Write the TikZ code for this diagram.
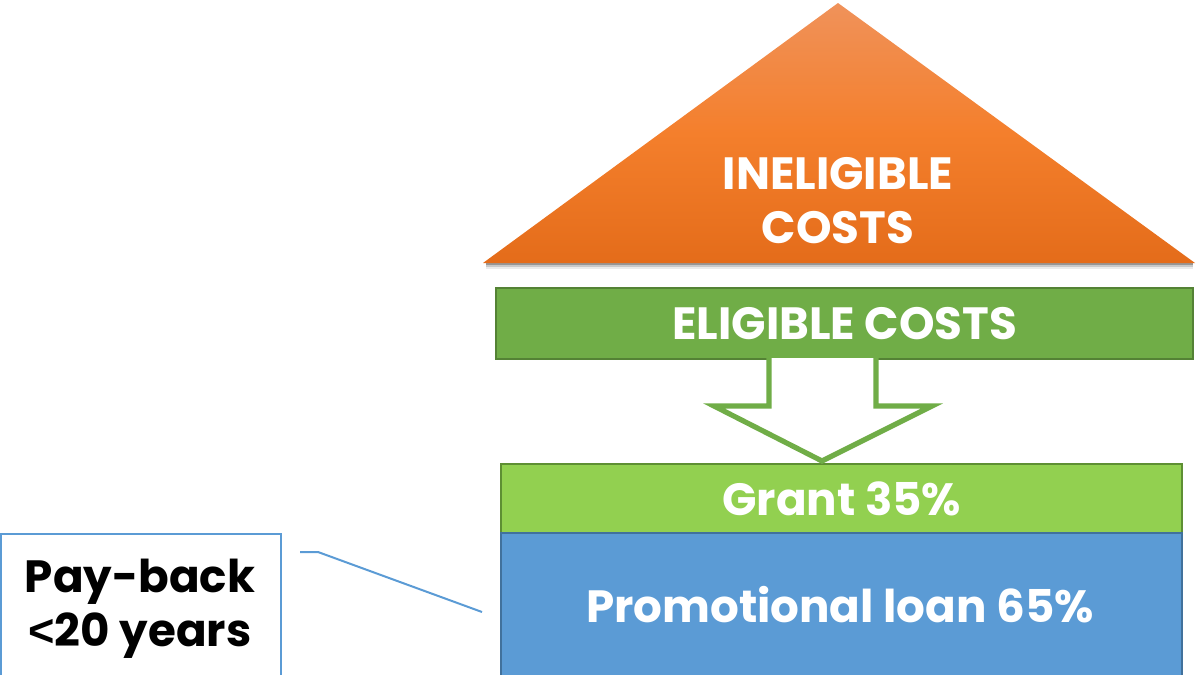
\documentclass[tikz,border=0pt]{standalone}
\usepackage{fontspec}
\setmainfont{Poppins}
\newfontfamily\ltfont{Liberation Sans}
\usetikzlibrary{calc}
\definecolor{orTop}{HTML}{F0925A}
\definecolor{orMid}{HTML}{F47F2C}
\definecolor{orBot}{HTML}{E46C1A}
\definecolor{eligGreen}{HTML}{70AD47}
\definecolor{eligBorder}{HTML}{548235}
\definecolor{grantGreen}{HTML}{92D050}
\definecolor{grantBorder}{HTML}{5E8F33}
\definecolor{loanBlue}{HTML}{5B9BD5}
\definecolor{loanBorder}{HTML}{41719C}
\tikzset{
  bigtext/.style={font=\fontsize{22.6}{27}\selectfont\bfseries, text=white, align=center},
  bar/.style={draw, line width=1.2pt, inner sep=0pt, anchor=north west},
}
\begin{document}
\begin{tikzpicture}[x=0.5pt,y=-0.5pt]
\useasboundingbox (0,0) rectangle (1196,675);
% shadow of triangle
\foreach \d/\o in {2/0.25,4/0.15,6/0.08}{
  \fill[black,opacity=\o] (486,263) -- (1193,263) -- (1193,263+\d) -- (486,263+\d) -- cycle;
}
% triangle
\coordinate (apex) at (838,3);
\coordinate (bl) at (483,263);
\coordinate (br) at (1195,263);
\shade[top color=orTop, bottom color=orBot, middle color=orMid] (apex) -- (br) -- (bl) -- cycle;
\node[bigtext] (inel) at (838,201) {INELIGIBLE\\COSTS};
% eligible costs
\node[bar, fill=eligGreen, draw=eligBorder, minimum width=348.5pt, minimum height=35.5pt] (elig) at (495,287) {};
\node[bigtext] (eligt) at (elig.center) {ELIGIBLE COSTS};
% grant
\node[bar, fill=grantGreen, draw=grantBorder, minimum width=340.5pt, minimum height=34.5pt] (grant) at (500,463) {};
\node[bigtext] (grantt) at (grant.center) {Grant 35\%};
% loan
\node[bar, fill=loanBlue, draw=loanBorder, minimum width=340.5pt, minimum height=75pt] (loan) at (500,532) {};
\node[bigtext] (loant) at (840,605) {Promotional loan 65\%};
% hollow block arrow
\draw[eligGreen, line width=2.6pt, fill=white, line join=miter]
  (769,358) -- (769,406) -- (714,406) -- (822,461) -- (932,406) -- (876,406) -- (876,358);
% pay-back box
\node[draw=loanBlue, line width=1pt, anchor=north west, minimum width=140pt, minimum height=75pt, inner sep=0pt] (pay) at (0,533) {};
\node[font=\fontsize{22.6}{27}\selectfont\bfseries, text=black, align=center] (payt) at (140,609) {Pay-back\\{\ltfont\bfseries <}20 years};
% callout line
\coordinate (c1) at (300,552);
\coordinate (c2) at (318,552);
\draw[loanBlue, line width=1pt] (c1) -- (c2) -- (482,612);
\end{tikzpicture}
\end{document}
